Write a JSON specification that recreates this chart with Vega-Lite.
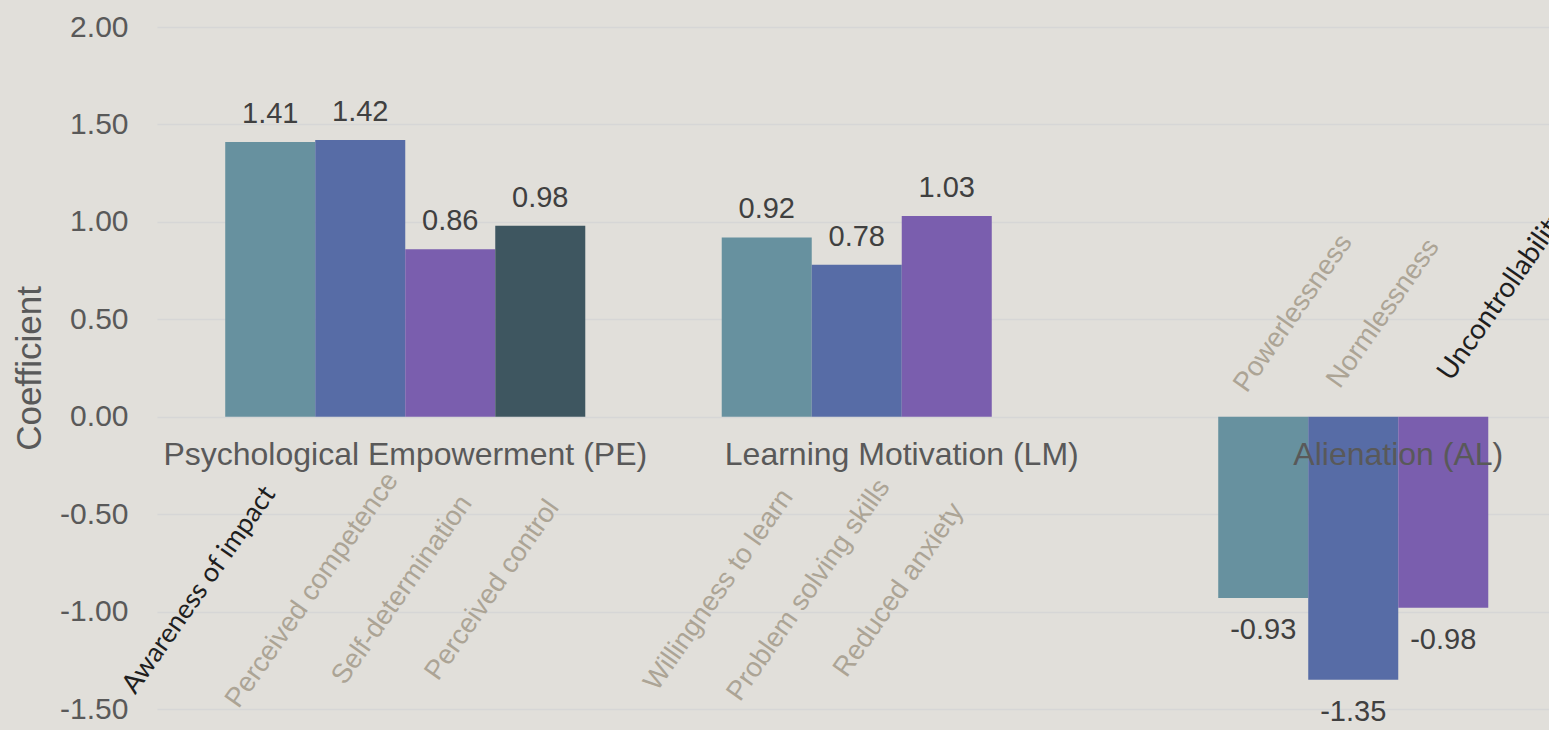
{
  "$schema": "https://vega.github.io/schema/vega-lite/v6.json",
  "autosize": {"type": "none"},
  "width": 1392,
  "height": 682,
  "padding": {"left": 157, "top": 27, "right": 0, "bottom": 21},
  "background": "#e1dfda",
  "config": {
    "view": {"stroke": null},
    "font": "Liberation Sans",
    "locale": {"number": {"decimal": ".", "thousands": ",", "grouping": [3], "currency": ["$", ""], "minus": "-"}}
  },
  "datasets": {
    "bars": [
      {"group": "Psychological Empowerment (PE)", "series": 1, "item": "Awareness of impact", "value": 1.41},
      {"group": "Psychological Empowerment (PE)", "series": 2, "item": "Perceived competence", "value": 1.42},
      {"group": "Psychological Empowerment (PE)", "series": 3, "item": "Self-determination", "value": 0.86},
      {"group": "Psychological Empowerment (PE)", "series": 4, "item": "Perceived control", "value": 0.98},
      {"group": "Learning Motivation (LM)", "series": 1, "item": "Willingness to learn", "value": 0.92},
      {"group": "Learning Motivation (LM)", "series": 2, "item": "Problem solving skills", "value": 0.78},
      {"group": "Learning Motivation (LM)", "series": 3, "item": "Reduced anxiety", "value": 1.03},
      {"group": "Alienation (AL)", "series": 1, "item": "Powerlessness", "value": -0.93},
      {"group": "Alienation (AL)", "series": 2, "item": "Normlessness", "value": -1.35},
      {"group": "Alienation (AL)", "series": 3, "item": "Uncontrollability", "value": -0.98}
    ],
    "groups": [
      {"group": "Psychological Empowerment (PE)"},
      {"group": "Learning Motivation (LM)"},
      {"group": "Alienation (AL)"}
    ]
  },
  "data": {"name": "bars"},
  "layer": [
    {
      "mark": {"type": "bar"},
      "encoding": {
        "x": {"field": "group", "type": "nominal", "axis": null,
              "scale": {"domain": ["Psychological Empowerment (PE)", "Learning Motivation (LM)", "Alienation (AL)"], "range": [0, 1489.5], "paddingInner": 0, "paddingOuter": 0}},
        "xOffset": {"field": "series", "type": "nominal",
              "scale": {"domain": [1, 2, 3, 4], "paddingInner": 0, "paddingOuter": 0.758}},
        "y": {"field": "value", "type": "quantitative",
              "scale": {"domain": [-1.5, 2], "nice": false},
              "axis": {"values": [-1.5, -1, -0.5, 0, 0.5, 1, 1.5, 2], "format": ".2f", "grid": true,
                       "gridColor": "#d6d6d6", "gridWidth": 1.5, "domain": false, "ticks": false,
                       "labelFontSize": 30, "labelColor": "#595959", "labelPadding": 29,
                       "title": "Coefficient", "titleFontSize": 35, "titleFontWeight": "normal",
                       "titleColor": "#595959", "titlePadding": 12}},
        "color": {"field": "series", "type": "nominal", "legend": null,
                  "scale": {"domain": [1, 2, 3, 4], "range": ["#67919f", "#576ca6", "#7a5eae", "#3e5660"]}}
      }
    },
    {
      "transform": [{"filter": "datum.value > 0"}],
      "mark": {"type": "text", "fontSize": 29, "color": "#404040", "baseline": "alphabetic", "dy": -19},
      "encoding": {
        "x": {"field": "group", "type": "nominal"},
        "xOffset": {"field": "series", "type": "nominal"},
        "y": {"field": "value", "type": "quantitative"},
        "text": {"field": "value", "type": "quantitative", "format": ".2f"}
      }
    },
    {
      "transform": [{"filter": "datum.value < 0"}],
      "mark": {"type": "text", "fontSize": 29, "color": "#404040", "baseline": "alphabetic", "dy": 41},
      "encoding": {
        "x": {"field": "group", "type": "nominal"},
        "xOffset": {"field": "series", "type": "nominal"},
        "y": {"field": "value", "type": "quantitative"},
        "text": {"field": "value", "type": "quantitative", "format": ".2f"}
      }
    },
    {
      "transform": [{"filter": "datum.value > 0 && datum.item !== 'Awareness of impact'"}],
      "mark": {"type": "text", "fontSize": 27.5, "color": "#aca495", "angle": 305, "align": "center", "baseline": "middle", "dx": -27.5, "dy": -39.3},
      "encoding": {
        "x": {"field": "group", "type": "nominal"},
        "xOffset": {"field": "series", "type": "nominal"},
        "y": {"datum": -0.89},
        "text": {"field": "item"}
      }
    },
    {
      "transform": [{"filter": "datum.item === 'Awareness of impact'"}],
      "mark": {"type": "text", "font": "Lato", "fontSize": 27, "color": "#1e1e1e", "angle": 305, "align": "center", "baseline": "middle", "dx": -40.7, "dy": -58.2},
      "encoding": {
        "x": {"field": "group", "type": "nominal"},
        "xOffset": {"field": "series", "type": "nominal"},
        "y": {"datum": -0.89},
        "text": {"field": "item"}
      }
    },
    {
      "transform": [{"filter": "datum.value < 0 && datum.item !== 'Uncontrollability'"}],
      "mark": {"type": "text", "fontSize": 27.5, "color": "#aca495", "angle": 305, "align": "center", "baseline": "middle", "dx": 17.2, "dy": 24.6},
      "encoding": {
        "x": {"field": "group", "type": "nominal"},
        "xOffset": {"field": "series", "type": "nominal"},
        "y": {"datum": 0.53},
        "text": {"field": "item"}
      }
    },
    {
      "transform": [{"filter": "datum.item === 'Uncontrollability'"}],
      "mark": {"type": "text", "font": "Lato", "fontSize": 28, "color": "#1e1e1e", "angle": 305, "align": "left", "baseline": "alphabetic", "dx": 4.6, "dy": 6.6},
      "encoding": {
        "x": {"field": "group", "type": "nominal"},
        "xOffset": {"field": "series", "type": "nominal"},
        "y": {"datum": 0.177},
        "text": {"field": "item"}
      }
    },
    {
      "data": {"name": "groups"},
      "mark": {"type": "text", "fontSize": 32, "color": "#595959", "baseline": "alphabetic", "dy": 48},
      "encoding": {
        "x": {"field": "group", "type": "nominal"},
        "y": {"datum": 0},
        "text": {"field": "group"}
      }
    }
  ]
}
